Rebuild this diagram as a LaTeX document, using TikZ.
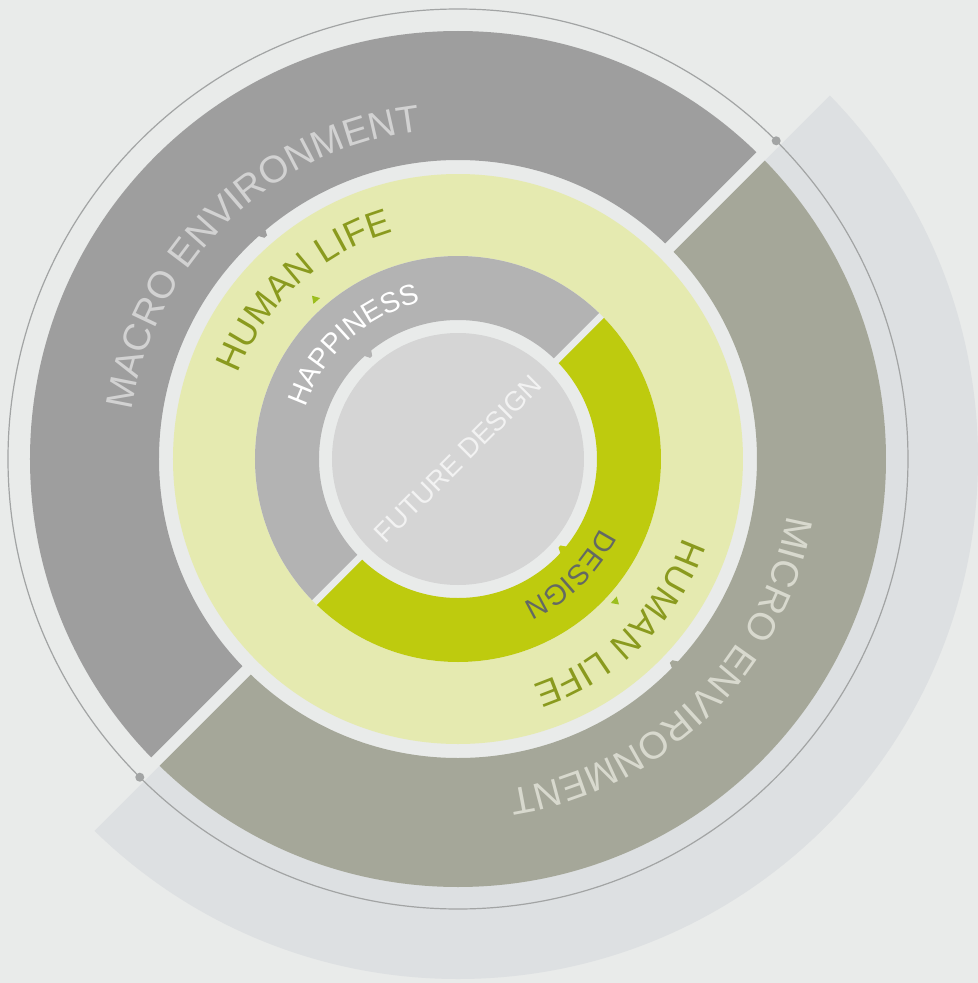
\documentclass[tikz,border=0pt]{standalone}
\usepackage{fontspec}
\newfontfamily\ringfont{Liberation Sans}
\usetikzlibrary{decorations.text}

\definecolor{bgcol}{HTML}{E9EBEA}
\definecolor{palecol}{HTML}{DDE0E2}
\definecolor{thincol}{HTML}{A2A4A4}
\definecolor{macrocol}{HTML}{9E9E9E}
\definecolor{microcol}{HTML}{A5A799}
\definecolor{lifecol}{HTML}{E5EAB0}
\definecolor{happycol}{HTML}{B3B3B3}
\definecolor{designcol}{HTML}{BECB0E}
\definecolor{centercol}{HTML}{D5D5D5}
\definecolor{markcol}{HTML}{9CBE1E}
\definecolor{macrotext}{HTML}{D2D2D2}
\definecolor{microtext}{HTML}{D8D9CE}
\definecolor{lifetext}{HTML}{8A9A1E}
\definecolor{designtext}{HTML}{636963}
\definecolor{futuretext}{HTML}{F2F2F2}

\newcommand\envfont{\ringfont\fontsize{28.5pt}{28.5pt}\selectfont}
\newcommand\lifefont{\ringfont\fontsize{27pt}{27pt}\selectfont}
\newcommand\innerfont{\ringfont\fontsize{21.4pt}{21.4pt}\selectfont}
\newcommand\futurefont{\ringfont\fontsize{20.5pt}{20.5pt}\selectfont}

\tikzset{
  ringtext/.style={decorate, decoration={text along path, text align=center, #1}},
  tooth/.style={fill=#1}
}

\begin{document}
\begin{tikzpicture}[x=0.75pt,y=0.75pt]
                \useasboundingbox (-458,-524) rectangle (520,459);
                \fill [bgcol] (-458,-524) rectangle (520,459);%

                % Drawing pale sector behind the micro half
                \begin{scope}
                \clip [rotate=45] (-700,-700) rectangle (700,-6);
                \fill [palecol, even odd rule] (0,0) circle (520) (0,0) circle (420);%
                \end{scope}

                % Drawing thin circle with its two points
                \draw [line width=0.9pt, thincol] (0,0) circle (450);%
                \fill [thincol] (45:450) circle (4.5);%
                \fill [thincol] (225:450) circle (4.5);%

                % Drawing ring macro
                \begin{scope}
                \clip [rotate=45] (-700,6) rectangle (700,700);
                \fill [macrocol, even odd rule] (0,0) circle (428) (0,0) circle (299);%
                \end{scope}

                % Drawing ring micro
                \begin{scope}
                \clip [rotate=45] (-700,-700) rectangle (700,-6);
                \fill [microcol, even odd rule] (0,0) circle (428) (0,0) circle (299);%
                \end{scope}

                % Drawing ring human life
                \fill [lifecol] (0,0) circle (285);%
                \fill [bgcol] (0,0) circle (203);%

                % Drawing ring happiness
                \begin{scope}
                \clip [rotate=45] (-300,3.5) rectangle (300,300);
                \fill [happycol, even odd rule] (0,0) circle (203) (0,0) circle (139);%
                \end{scope}

                % Drawing ring design
                \begin{scope}
                \clip [rotate=45] (-300,-300) rectangle (300,-3.5);
                \fill [designcol, even odd rule] (0,0) circle (203) (0,0) circle (139);%
                \end{scope}

                % Drawing centre disc
                \fill [centercol] (0,0) circle (126);%

                % Marking teeth on the inner edges
                \fill [tooth=macrocol] (131.9:300) -- (131.2:294) -- (130.5:294) -- (130.0:300) -- cycle;%
                \fill [tooth=microcol] (-42.5:300) -- (-43.2:294) -- (-43.9:294) -- (-44.4:300) -- cycle;%
                \fill [tooth=happycol] (132.4:140) -- (131.0:134) -- (129.8:134) -- (128.4:140) -- cycle;%
                \fill [tooth=designcol] (-38.8:140) -- (-40.2:134) -- (-41.4:134) -- (-42.8:140) -- cycle;%

                % Marking small triangles
                \fill [markcol] (131.8:219) -- (133.0:212) -- (130.6:212) -- cycle;%
                \fill [markcol] (-42.1:217) -- (-40.9:210) -- (-43.3:210) -- cycle;%

                % Writing ring labels
                \path [ringtext={text color=macrotext, text={|\envfont|MACRO ENVIRONMENT}}] (224:330) arc [start angle=224, end angle=44, radius=330];%
                \path [ringtext={text color=microtext, text={|\envfont|MICRO ENVIRONMENT}}] (44.5:334) arc [start angle=44.5, end angle=-135.5, radius=334];%
                \path [ringtext={text color=lifetext, text={|\lifefont|HUMAN LIFE}}] (222.4:236) arc [start angle=222.4, end angle=42.4, radius=236];%
                \path [ringtext={text color=lifetext, text={|\lifefont|HUMAN LIFE}}] (44.5:238) arc [start angle=44.5, end angle=-135.5, radius=238];%
                \path [ringtext={text color=white, text={|\innerfont|HAPPINESS}}] (222.4:161) arc [start angle=222.4, end angle=42.4, radius=161];%
                \path [ringtext={text color=designtext, text={|\innerfont|DESIGN}}] (44:158) arc [start angle=44, end angle=-136, radius=158];%

                \node [rotate=45, text=futuretext, font=\futurefont] (future) at (0,0) {FUTURE DESIGN};%
\end{tikzpicture}
\end{document}
